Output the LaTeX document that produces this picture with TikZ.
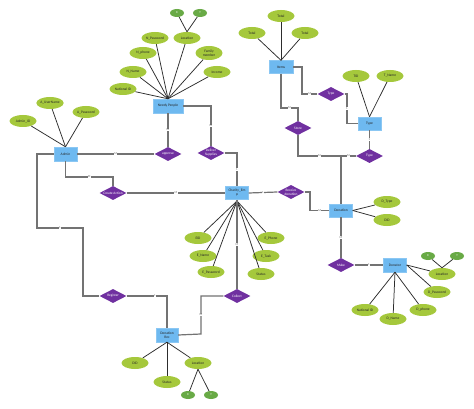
\documentclass[tikz,border=0pt]{standalone}
\usepackage{fontspec}
\setmainfont{Carlito}
\usetikzlibrary{shapes.geometric}
\definecolor{attr}{RGB}{165,200,60}
\definecolor{attrd}{RGB}{105,170,70}
\definecolor{ent}{RGB}{110,185,240}
\definecolor{rel}{RGB}{112,48,160}
\definecolor{lnk}{RGB}{115,115,115}
\definecolor{aline}{RGB}{45,45,45}
\begin{document}
\begin{tikzpicture}[x=1pt,y=-1pt,
 attrnode/.style={ellipse, fill=attr, minimum width=27pt, minimum height=12pt, inner sep=0pt, font=\fontsize{3.6}{4}\selectfont, align=center, text=black!85},
 attrsm/.style={ellipse, fill=attrd, minimum width=14pt, minimum height=8pt, inner sep=0pt, font=\fontsize{3}{3}\selectfont, text=white},
 entity/.style={rectangle, fill=ent, draw=ent!80!white, line width=0.4pt, minimum width=23pt, minimum height=13pt, inner sep=0.5pt, font=\fontsize{3.6}{4}\selectfont, align=center, text=black!85},
 relation/.style={diamond, aspect=2, fill=rel, minimum width=27pt, minimum height=14pt, inner sep=0pt, font=\fontsize{3.5}{3.9}\selectfont, align=center, text=white},
 alink/.style={draw=aline, line width=0.75pt},
 rlink/.style={draw=lnk, line width=1.2pt},
 card/.style={fill=white, inner sep=0.4pt, font=\fontsize{3}{3}\selectfont, text=black!60},
]
\useasboundingbox[fill=white] (0,0) rectangle (474,409);

% ---------- entities ----------
\node[entity, minimum width=30pt, minimum height=14pt] (np) at (168,106) {Needy People};
\node[entity, minimum height=14pt] (admin) at (65.5,154) {Admin};
\node[entity] (charity) at (237,193) {Charity\_Em\\p};
\node[entity] (donation) at (341,210.5) {Donation};
\node[entity, minimum width=24pt] (items) at (281,67) {Items};
\node[entity] (type) at (369.5,123.5) {Type};
\node[entity, minimum height=14pt] (donator) at (395,265) {Donator};
\node[entity, minimum width=22pt, minimum height=14pt] (rec) at (167,335) {Donation\\Rec};

% ---------- relationships ----------
\node[relation] (approve) at (168,154) {approve};
\node[relation] (deliver) at (211,153) {Deliver\\Supplies};
\node[relation] (create) at (113,193) {Create Action};
\node[relation] (receive) at (291,192) {Receive\\donation};
\node[relation] (typeD) at (331,94) {Type};
\node[relation] (typeD2) at (369.5,156) {Type};
\node[relation] (store) at (298,128) {Store};
\node[relation] (make) at (341,265) {Make};
\node[relation] (register) at (113,296) {Register};
\node[relation] (collect) at (237,296) {Collect};

% ---------- attributes: Needy People ----------
\node[attrsm] (npX) at (177,13) {X};
\node[attrsm] (npY) at (200,13) {Y};
\node[attrnode] (npLoc) at (187,38) {Location};
\node[attrnode] (npPwd) at (155,38) {N\_Password};
\node[attrnode] (npPhone) at (143,53) {N\_phone};
\node[attrnode, minimum height=14pt] (npFam) at (209,53) {Family\\member};
\node[attrnode] (npName) at (133,72) {N\_Name};
\node[attrnode] (npInc) at (217,72) {Income};
\node[attrnode] (npNID) at (123,89) {National ID};
\foreach \a in {npLoc,npPwd,npPhone,npFam,npName,npInc,npNID}
  \draw[alink] (\a) -- (np.north);
\draw[alink] (npX) -- (npLoc.north);
\draw[alink] (npY) -- (npLoc.north);

% ---------- attributes: Admin ----------
\node[attrnode] (aUser) at (50,103) {A\_UserName};
\node[attrnode] (aPwd) at (86,112) {A\_Password};
\node[attrnode] (aID) at (23,121) {Admin\_ID};
\foreach \a in {aUser,aPwd,aID}
  \draw[alink] (\a) -- (admin.north);

% ---------- attributes: Items ----------
\node[attrnode] (tot1) at (281,16) {Total};
\node[attrnode] (tot2) at (252,33) {Total};
\node[attrnode] (tot3) at (305,33) {Total};
\foreach \a in {tot1,tot2,tot3}
  \draw[alink] (\a) -- (items.north);

% ---------- attributes: Type ----------
\node[attrnode] (tid) at (356,76) {TID};
\node[attrnode] (tname) at (390,76) {T\_Name};
\foreach \a in {tid,tname}
  \draw[alink] (\a) -- (type.north);

% ---------- attributes: Charity ----------
\coordinate (chb) at (237,201);
\node[attrnode] (eid) at (198,238) {EID};
\node[attrnode] (ephone) at (271,238) {E\_Phone};
\node[attrnode] (ename) at (203,256) {E\_Name};
\node[attrnode] (etask) at (266,256) {E\_Task};
\node[attrnode] (epwd) at (211,272) {E\_Password};
\node[attrnode] (estat) at (261,274) {Status};
\foreach \a in {eid,ephone,ename,etask,epwd,estat}
  \draw[alink] (\a) -- (chb);

% ---------- attributes: Donation ----------
\node[attrnode] (dtype) at (387,202) {D\_Type};
\node[attrnode] (did) at (387,220) {DID};
\foreach \a in {dtype,did}
  \draw[alink] (\a) -- (donation.east);

% ---------- attributes: Donator ----------
\node[attrsm] (dX) at (428,256) {X};
\node[attrsm] (dY) at (457,256) {Y};
\node[attrnode] (dLoc) at (442,274) {Location};
\node[attrnode] (dPwd) at (437,292) {D\_Password};
\node[attrnode] (dPhone) at (423,310) {D\_phone};
\node[attrnode] (dName) at (393,319) {D\_Name};
\node[attrnode] (dNID) at (365,310) {National ID};
\draw[alink] (dX) -- (dLoc.north);
\draw[alink] (dY) -- (dLoc.north);
\foreach \a in {dLoc,dPwd}
  \draw[alink] (\a) -- (donator.east);
\foreach \a in {dPhone,dName,dNID}
  \draw[alink] (\a) -- (donator.south);

% ---------- attributes: Donation Rec ----------
\node[attrnode] (rDID) at (135,363) {DID};
\node[attrnode] (rLoc) at (198,363) {Location};
\node[attrnode] (rStat) at (167,382) {Status};
\node[attrsm] (rX) at (188,395) {X};
\node[attrsm] (rY) at (211,395) {Y};
\foreach \a in {rDID,rLoc,rStat}
  \draw[alink] (\a) -- (rec.south);
\draw[alink] (rX) -- (rLoc.south);
\draw[alink] (rY) -- (rLoc.south);

% ---------- relationship connectors ----------
\draw[rlink] (admin.east) -- node[card]{M} (approve.west);
\draw[rlink] (np.south) -- node[card]{M} (approve.north);
\draw[rlink] (np.east) -- (211,106) -- node[card]{M} (deliver.north);
\draw[rlink] (deliver.east) -- (237,153) -- node[card]{1} (charity.north);
\draw[rlink] (admin.south) -- (65.5,177) -- node[card]{M} (113,177) -- (create.north);
\draw[rlink] (create.east) -- node[card]{M} (charity.west);
\draw[rlink] (admin.west) -- (37,154) -- (37,228) -- node[card]{1} (83,228) -- (83,296) -- (register.west);
\draw[rlink] (register.east) -- node[card, pos=0.7]{1} (167,296) -- (rec.north);
\draw[rlink] (charity.south) -- node[card, pos=0.5]{M} (collect.north);
\draw[rlink] (collect.west) -- (201,296) -- node[card]{M} (201,334) -- (rec.east);
\draw[rlink] (charity.east) -- node[card]{1} (receive.west);
\draw[rlink] (receive.east) -- (310,192) -- (310,210.5) -- node[card]{M} (donation.west);
\draw[rlink] (items.east) -- (302,67) -- (302,94) -- node[card]{M} (typeD.west);
\draw[rlink] (typeD.east) -- (347,94) -- node[card]{1} (347,123.5) -- (type.west);
\draw[rlink] (type.south) -- node[card]{1} (typeD2.north);
\draw[rlink] (items.south) -- (281,108) -- node[card]{M} (298,108) -- (store.north);
\draw[rlink] (store.south) -- (298,156) -- node[card]{M} (341,156) -- (donation.north);
\draw[rlink] (typeD2.west) -- node[card]{M} (341,156);
\draw[rlink] (donation.south) -- node[card]{M} (make.north);
\draw[rlink] (make.east) -- node[card]{1} (donator.west);
\end{tikzpicture}
\end{document}
